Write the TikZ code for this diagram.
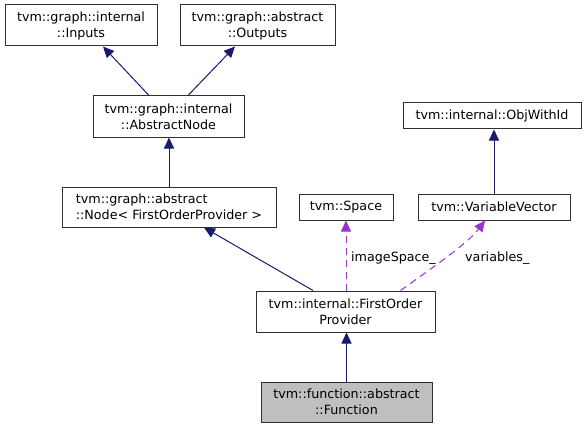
\documentclass[tikz,border=0pt]{standalone}
\usepackage{fontspec}
\setmainfont{DejaVu Sans}
\usetikzlibrary{arrows.meta}
\definecolor{edgeblue}{HTML}{191970}
\definecolor{orchid}{HTML}{9A32CD}
\definecolor{fillgray}{HTML}{BFBFBF}
\definecolor{border}{HTML}{303030}
\begin{document}
\begin{tikzpicture}[x=1pt,y=-1pt,
 box/.style={draw=border, line width=1pt, fill=white, inner sep=0pt, align=center, font=\fontsize{12.7}{16}\selectfont},
 inh/.style={draw=edgeblue, line width=1pt, -{Triangle[length=11pt,width=10pt]}},
 use/.style={draw=orchid, line width=1pt, dash pattern=on 7pt off 5pt, -{Triangle[length=11pt,width=10pt]}},
 lbl/.style={font=\fontsize{12.7}{16}\selectfont, anchor=west, inner sep=0pt}]
\useasboundingbox[fill=white] (0,0) rectangle (587,428);
\node[box, minimum width=152, minimum height=41] (inp) at (81,25.5) {tvm::graph::internal\\::Inputs};
\node[box, minimum width=155, minimum height=41] (out) at (257.5,25.5) {tvm::graph::abstract\\::Outputs};
\node[box, minimum width=151, minimum height=41] (an) at (168.5,116.5) {tvm::graph::internal\\::AbstractNode};
\node[box, minimum width=178, minimum height=26] (ow) at (492,116) {tvm::internal::ObjWithId};
\node[box, align=left, minimum width=214, minimum height=40] (nd) at (169,207) {tvm::graph::abstract\\::Node< FirstOrderProvider >};
\node[box, minimum width=94, minimum height=26] (sp) at (346,207) {tvm::Space};
\node[box, minimum width=152, minimum height=26] (vv) at (494,207) {tvm::VariableVector};
\node[box, minimum width=179, minimum height=41] (fo) at (345.5,311.5) {tvm::internal::FirstOrder\\Provider};
\node[box, fill=fillgray, minimum width=171, minimum height=40] (fn) at (346.5,402) {tvm::function::abstract\\::Function};
\draw[inh] ([xshift=-19.5]an.north) -- ([xshift=22]inp.south);
\draw[inh] ([xshift=19.5]an.north) -- ([xshift=-22.5]out.south);
\draw[inh] (nd.north) -- (nd.north |- an.south);
\draw[inh] (vv.north) -- (vv.north |- ow.south);
\draw[inh] ([xshift=-32.5]fo.north) -- ([xshift=35]nd.south);
\draw[inh] (fn.north) -- (fn.north |- fo.south);
\draw[use] (sp.south |- fo.north) -- (sp.south);
\draw[use] ([xshift=55]fo.north) .. controls +(25,-18) and +(-18,24) .. ([xshift=-9]vv.south);
\node[lbl] (l1) at (351,258) {imageSpace\_};
\node[lbl] (l2) at (465,258) {variables\_};
\end{tikzpicture}
\end{document}
